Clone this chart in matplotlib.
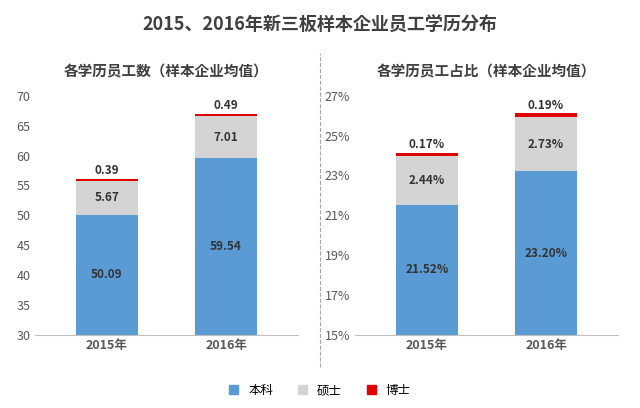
import matplotlib.pyplot as plt
from matplotlib.lines import Line2D
from matplotlib import font_manager

cjk = [f.name for f in font_manager.fontManager.ttflist if 'CJK' in f.name]
plt.rcParams['font.sans-serif'] = (['Noto Sans CJK SC'] if 'Noto Sans CJK SC' in cjk else cjk[:1]) + ['DejaVu Sans']
plt.rcParams['font.family'] = 'sans-serif'

years = ['2015年', '2016年']
count_bk = [50.09, 59.54]
count_ss = [5.67, 7.01]
count_bs = [0.39, 0.49]
pct_bk = [21.52, 23.20]
pct_ss = [2.44, 2.73]
pct_bs = [0.17, 0.19]

blue, grey, red = '#5B9BD5', '#D4D4D4', '#E00000'

fig = plt.figure(figsize=(6.4, 4.08), dpi=100)
fig.text(0.5, 0.925, '2015、2016年新三板样本企业员工学历分布', ha='center', fontsize=13, fontweight='bold', color='#404040')

def draw(ax, bk, ss, bs, lo, hi, step, fmt, title):
    x = [0, 1]
    b1 = [v - lo for v in bk]
    ax.bar(x, b1, 0.52, bottom=lo, color=blue)
    ax.bar(x, ss, 0.52, bottom=bk, color=grey)
    top = [a + b for a, b in zip(bk, ss)]
    ax.bar(x, bs, 0.52, bottom=top, color=red)
    for i in x:
        ax.text(i, lo + (bk[i] - lo) / 2, fmt(bk[i]), ha='center', va='center', fontsize=8.5, fontweight='bold', color='#333333')
        ax.text(i, bk[i] + ss[i] / 2, fmt(ss[i]), ha='center', va='center', fontsize=8.5, fontweight='bold', color='#333333')
        ax.text(i, top[i] + bs[i] + (hi - lo) * 0.035, fmt(bs[i]), ha='center', va='center', fontsize=8.5, fontweight='bold', color='#333333')
    ax.set_ylim(lo, hi)
    ax.set_yticks(range(lo, hi + 1, step))
    ax.set_xlim(-0.6, 1.6)
    ax.set_xticks(x)
    ax.set_xticklabels(years, fontsize=9, fontweight='bold', color='#404040')
    ax.tick_params(length=0, labelsize=9, colors='#595959')
    for s in ['top', 'right', 'left']:
        ax.spines[s].set_visible(False)
    ax.spines['bottom'].set_color('#BFBFBF')
    ax.set_title(title, fontsize=10.5, fontweight='bold', color='#404040', pad=14)

ax1 = fig.add_axes([0.055, 0.18, 0.41, 0.585])
draw(ax1, count_bk, count_ss, count_bs, 30, 70, 5, lambda v: f'{v:.2f}', '各学历员工数（样本企业均值）')
ax2 = fig.add_axes([0.555, 0.18, 0.41, 0.585])
draw(ax2, pct_bk, pct_ss, pct_bs, 15, 27, 2, lambda v: f'{v:.2f}%', '各学历员工占比（样本企业均值）')
ax2.set_yticklabels([f'{v}%' for v in range(15, 28, 2)])

fig.add_artist(Line2D([0.5, 0.5], [0.1, 0.87], color='#A6A6A6', ls='--', lw=0.8))

handles = [plt.Rectangle((0, 0), 1, 1, color=c) for c in (blue, grey, red)]
fig.legend(handles, ['本科', '硕士', '博士'], loc='lower center', ncol=3, frameon=False,
           fontsize=9, handlelength=0.7, handleheight=0.7, bbox_to_anchor=(0.5, 0.0))
fig.savefig('out.png')
